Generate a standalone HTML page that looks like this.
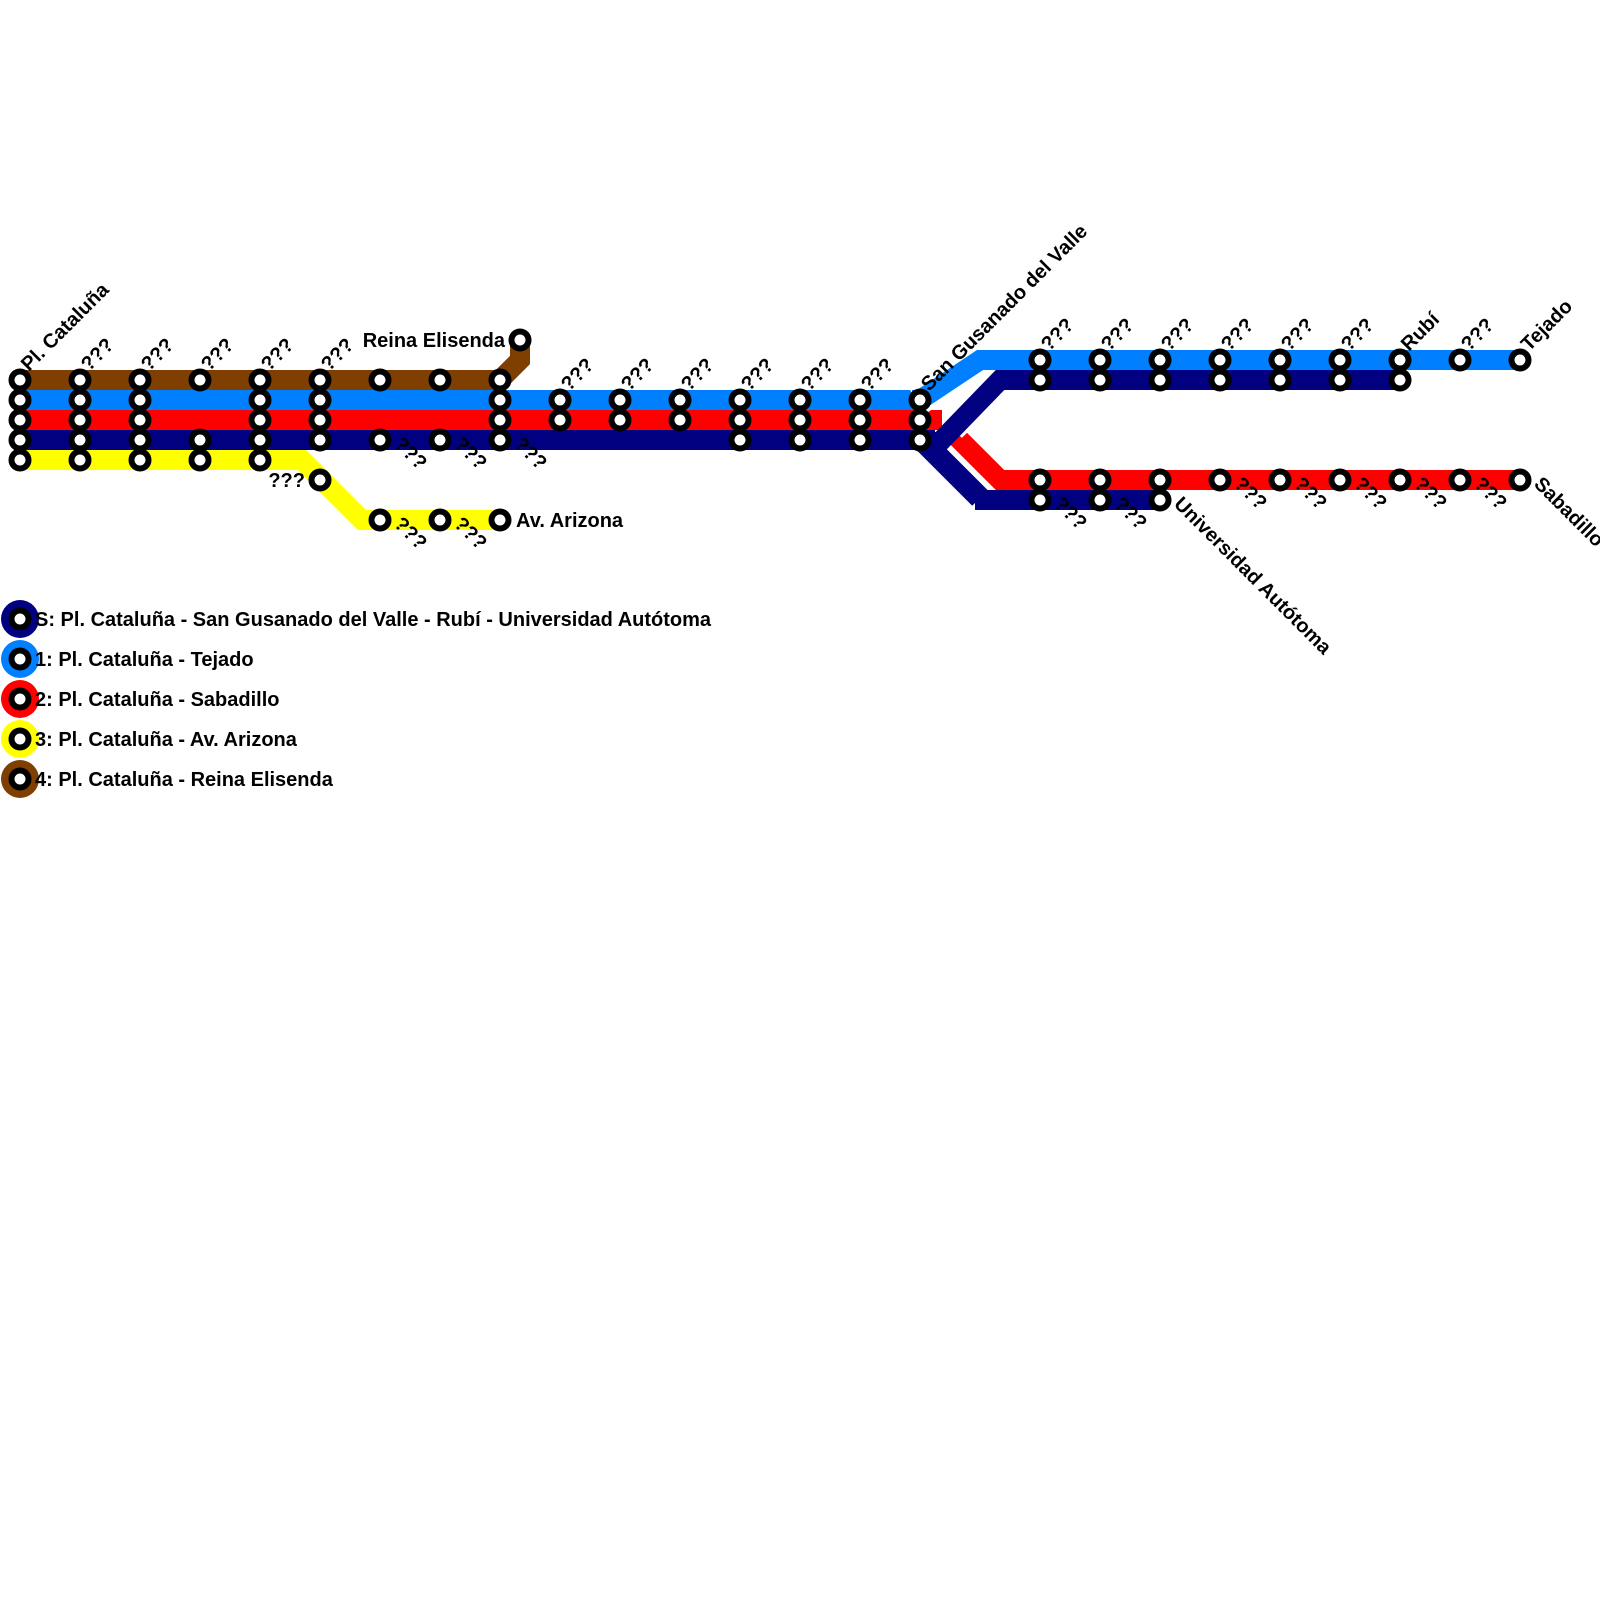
<!DOCTYPE html>
<html><head><meta charset="utf-8"><style>
html,body{margin:0;padding:0;background:#fff}
svg{display:block}
text{font-family:"Liberation Sans",sans-serif;font-weight:bold;font-size:20px;fill:#000}
</style></head><body>
<svg width="1600" height="1600" viewBox="0 0 1600 1600" xmlns="http://www.w3.org/2000/svg">
<defs><circle id="s" r="8.5" fill="#fff" stroke="#000" stroke-width="6"/></defs>
<g fill="none" stroke-linejoin="miter" stroke-linecap="butt" stroke-width="20">
<polyline points="20,380 500,380 520,360 520,340" stroke="#7f3f00"/>
<polyline points="20,400 920,400" stroke="#0080ff"/>
<polyline points="20,420 942,420" stroke="#ff0000"/>
<polyline points="20,440 935,440" stroke="#000080"/>
<polyline points="20,460 302,460 362,520 500,520" stroke="#ffff00"/>
<polyline points="918,402 978,362" stroke="#fff" stroke-width="28"/>
<polyline points="912,400 920,400 980,360 1520,360" stroke="#0080ff"/>
<polyline points="922,440 980,498" stroke="#000080" stroke-width="22"/>
<polyline points="975,500 1160,500" stroke="#000080"/>
<polyline points="955,435 994,474" stroke="#fff" stroke-width="28"/>
<polyline points="945,425 1000,480 1520,480" stroke="#ff0000"/>
<polyline points="952,428 998,382" stroke="#fff" stroke-width="28"/>
<polyline points="925,442 940,442 1000,380 1400,380" stroke="#000080"/>
</g>
<g>
<use href="#s" x="20" y="380"/><use href="#s" x="80" y="380"/><use href="#s" x="140" y="380"/><use href="#s" x="200" y="380"/><use href="#s" x="260" y="380"/><use href="#s" x="320" y="380"/><use href="#s" x="380" y="380"/><use href="#s" x="440" y="380"/><use href="#s" x="500" y="380"/><use href="#s" x="520" y="340"/>
<use href="#s" x="20" y="400"/><use href="#s" x="80" y="400"/><use href="#s" x="140" y="400"/><use href="#s" x="260" y="400"/><use href="#s" x="320" y="400"/><use href="#s" x="500" y="400"/><use href="#s" x="560" y="400"/><use href="#s" x="620" y="400"/><use href="#s" x="680" y="400"/><use href="#s" x="740" y="400"/><use href="#s" x="800" y="400"/><use href="#s" x="860" y="400"/><use href="#s" x="920" y="400"/>
<use href="#s" x="20" y="420"/><use href="#s" x="80" y="420"/><use href="#s" x="140" y="420"/><use href="#s" x="260" y="420"/><use href="#s" x="320" y="420"/><use href="#s" x="500" y="420"/><use href="#s" x="560" y="420"/><use href="#s" x="620" y="420"/><use href="#s" x="680" y="420"/><use href="#s" x="740" y="420"/><use href="#s" x="800" y="420"/><use href="#s" x="860" y="420"/><use href="#s" x="920" y="420"/>
<use href="#s" x="20" y="440"/><use href="#s" x="80" y="440"/><use href="#s" x="140" y="440"/><use href="#s" x="200" y="440"/><use href="#s" x="260" y="440"/><use href="#s" x="320" y="440"/><use href="#s" x="380" y="440"/><use href="#s" x="440" y="440"/><use href="#s" x="500" y="440"/><use href="#s" x="740" y="440"/><use href="#s" x="800" y="440"/><use href="#s" x="860" y="440"/><use href="#s" x="920" y="440"/>
<use href="#s" x="20" y="460"/><use href="#s" x="80" y="460"/><use href="#s" x="140" y="460"/><use href="#s" x="200" y="460"/><use href="#s" x="260" y="460"/><use href="#s" x="320" y="480"/><use href="#s" x="380" y="520"/><use href="#s" x="440" y="520"/><use href="#s" x="500" y="520"/>
<use href="#s" x="1040" y="360"/><use href="#s" x="1100" y="360"/><use href="#s" x="1160" y="360"/><use href="#s" x="1220" y="360"/><use href="#s" x="1280" y="360"/><use href="#s" x="1340" y="360"/><use href="#s" x="1400" y="360"/><use href="#s" x="1460" y="360"/><use href="#s" x="1520" y="360"/>
<use href="#s" x="1040" y="380"/><use href="#s" x="1100" y="380"/><use href="#s" x="1160" y="380"/><use href="#s" x="1220" y="380"/><use href="#s" x="1280" y="380"/><use href="#s" x="1340" y="380"/><use href="#s" x="1400" y="380"/>
<use href="#s" x="1040" y="480"/><use href="#s" x="1100" y="480"/><use href="#s" x="1160" y="480"/><use href="#s" x="1220" y="480"/><use href="#s" x="1280" y="480"/><use href="#s" x="1340" y="480"/><use href="#s" x="1400" y="480"/><use href="#s" x="1460" y="480"/><use href="#s" x="1520" y="480"/>
<use href="#s" x="1040" y="500"/><use href="#s" x="1100" y="500"/><use href="#s" x="1160" y="500"/>
</g>
<g>
<text transform="translate(29,372) rotate(-45)">Pl. Cataluña</text>
<text transform="translate(89,372) rotate(-45)">???</text>
<text transform="translate(149,372) rotate(-45)">???</text>
<text transform="translate(209,372) rotate(-45)">???</text>
<text transform="translate(269,372) rotate(-45)">???</text>
<text transform="translate(329,372) rotate(-45)">???</text>
<text transform="translate(569,392) rotate(-45)">???</text>
<text transform="translate(629,392) rotate(-45)">???</text>
<text transform="translate(689,392) rotate(-45)">???</text>
<text transform="translate(749,392) rotate(-45)">???</text>
<text transform="translate(809,392) rotate(-45)">???</text>
<text transform="translate(869,392) rotate(-45)">???</text>
<text transform="translate(929,392) rotate(-45)">San Gusanado del Valle</text>
<text transform="translate(1049,352) rotate(-45)">???</text>
<text transform="translate(1109,352) rotate(-45)">???</text>
<text transform="translate(1169,352) rotate(-45)">???</text>
<text transform="translate(1229,352) rotate(-45)">???</text>
<text transform="translate(1289,352) rotate(-45)">???</text>
<text transform="translate(1349,352) rotate(-45)">???</text>
<text transform="translate(1409,352) rotate(-45)">Rubí</text>
<text transform="translate(1469,352) rotate(-45)">???</text>
<text transform="translate(1529,352) rotate(-45)">Tejado</text>
</g>
<g>
<text transform="translate(393,445) rotate(45)">???</text>
<text transform="translate(453,445) rotate(45)">???</text>
<text transform="translate(513,445) rotate(45)">???</text>
<text transform="translate(393,525) rotate(45)">???</text>
<text transform="translate(453,525) rotate(45)">???</text>
<text transform="translate(1053,505) rotate(45)">???</text>
<text transform="translate(1113,505) rotate(45)">???</text>
<text transform="translate(1173,505) rotate(45)">Universidad Autótoma</text>
<text transform="translate(1233,485) rotate(45)">???</text>
<text transform="translate(1293,485) rotate(45)">???</text>
<text transform="translate(1353,485) rotate(45)">???</text>
<text transform="translate(1413,485) rotate(45)">???</text>
<text transform="translate(1473,485) rotate(45)">???</text>
<text transform="translate(1533,485) rotate(45)">Sabadillo</text>
</g>
<text x="505" y="347" text-anchor="end">Reina Elisenda</text>
<text x="305" y="487" text-anchor="end">???</text>
<text x="516" y="527">Av. Arizona</text>
<g>
<circle cx="20" cy="619" r="19" fill="#000080"/><use href="#s" x="20" y="619"/>
<circle cx="20" cy="659" r="19" fill="#0080ff"/><use href="#s" x="20" y="659"/>
<circle cx="20" cy="699" r="19" fill="#ff0000"/><use href="#s" x="20" y="699"/>
<circle cx="20" cy="739" r="19" fill="#ffff00"/><use href="#s" x="20" y="739"/>
<circle cx="20" cy="779" r="19" fill="#7f3f00"/><use href="#s" x="20" y="779"/>
<text x="35" y="626">S: Pl. Cataluña - San Gusanado del Valle - Rubí - Universidad Autótoma</text>
<text x="35" y="666">1: Pl. Cataluña - Tejado</text>
<text x="35" y="706">2: Pl. Cataluña - Sabadillo</text>
<text x="35" y="746">3: Pl. Cataluña - Av. Arizona</text>
<text x="35" y="786">4: Pl. Cataluña - Reina Elisenda</text>
</g>
</svg>
</body></html>
